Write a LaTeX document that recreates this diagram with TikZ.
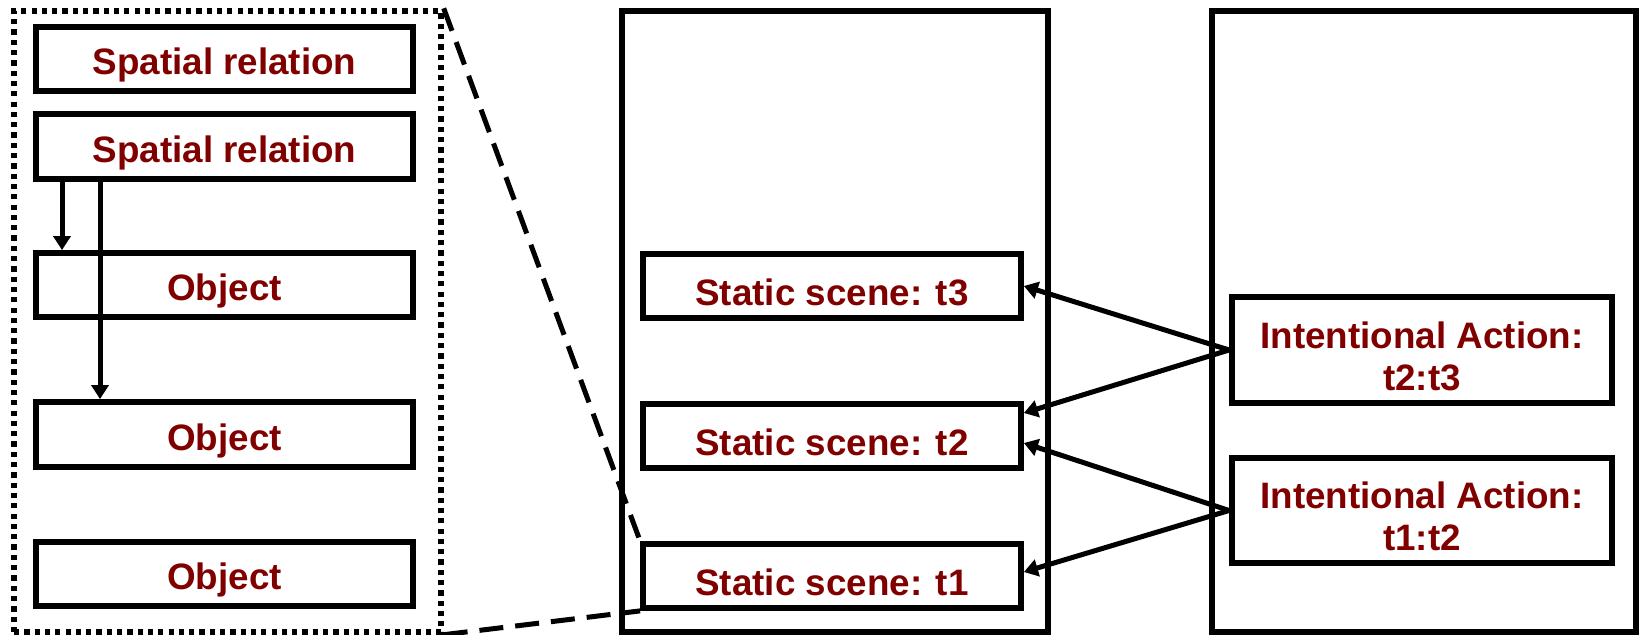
\documentclass[tikz,border=0pt]{standalone}
\usepackage{fontspec}
\setmainfont{Liberation Sans}
\usetikzlibrary{arrows.meta}
\definecolor{labelred}{RGB}{128,0,0}
\begin{document}
\begin{tikzpicture}[x=0.5pt,y=-0.5pt,
  sized/.style 2 args={minimum width=#1pt, minimum height=#2pt},
  boxtext/.style={inner sep=0pt, text=labelred, yshift=-3pt,
    font=\bfseries\fontsize{18.4}{21}\selectfont, align=center},
  labelbox/.style={draw, line width=2.9pt, inner sep=0pt,
    label={[boxtext]center:{#1}}},
  panel/.style={draw, line width=2.9pt, inner sep=0pt},
  dottedpanel/.style={draw, line width=2.7pt, dash pattern=on 2.6pt off 2.55pt, inner sep=0pt},
  link/.style={-{Triangle[length=7pt,width=8.5pt]}, line width=2.5pt},
  zoomline/.style={line width=2.5pt, dash pattern=on 12pt off 6pt}]
\useasboundingbox (0,0) rectangle (1641,635);

% left panel: detail of a static scene
\node[dottedpanel, sized={213.5}{310.5}] (detail) at (227.5,321.5) {};
\node[labelbox={Spatial relation}, sized={188.5}{32}]   (sr1)  at (224.5,59)    {};
\node[labelbox={Spatial relation}, sized={188.5}{32.5}] (sr2)  at (224.5,146.5) {};
\node[labelbox={Object}, sized={188.5}{32}]   (obj1) at (224.5,285)   {};
\node[labelbox={Object}, sized={188.5}{32.5}] (obj2) at (224.5,434.5) {};
\node[labelbox={Object}, sized={188.5}{32}]   (obj3) at (224.5,574)   {};

\coordinate (ca) at (62,0);
\coordinate (cb) at (100,0);
\draw[link] (sr2.south -| ca) -- (obj1.north -| ca);
\draw[link] (sr2.south -| cb) -- (obj2.north -| cb);

% middle panel: static scenes
\node[panel, sized={213}{310.5}] (scenes) at (835,321.5) {};
\node[labelbox={Static scene: t3}, sized={189}{32}] (t3) at (832,286) {};
\node[labelbox={Static scene: t2}, sized={189}{32}] (t2) at (832,436) {};
\node[labelbox={Static scene: t1}, sized={189}{32}] (t1) at (832,576) {};

% right panel: intentional actions
\node[panel, sized={212}{310.5}] (actions) at (1424,321.5) {};
\node[labelbox={Intentional Action:\\t2:t3}, sized={190}{53}]   (ia23) at (1422,350)   {};
\node[labelbox={Intentional Action:\\t1:t2}, sized={190}{52.5}] (ia12) at (1422,510.5) {};

% zoom lines from the detail panel to scene t1
\draw[zoomline] (detail.north east) -- (t1.north west);
\draw[zoomline] (detail.south east) -- (t1.south west);

% actions point to the scenes they connect
\draw[link] (ia23.west) -- (t3.east);
\draw[link] (ia23.west) -- ([yshift=11.5pt]t2.east);
\draw[link] (ia12.west) -- ([yshift=-3.5pt]t2.east);
\draw[link] (ia12.west) -- ([yshift=2pt]t1.east);
\end{tikzpicture}
\end{document}
